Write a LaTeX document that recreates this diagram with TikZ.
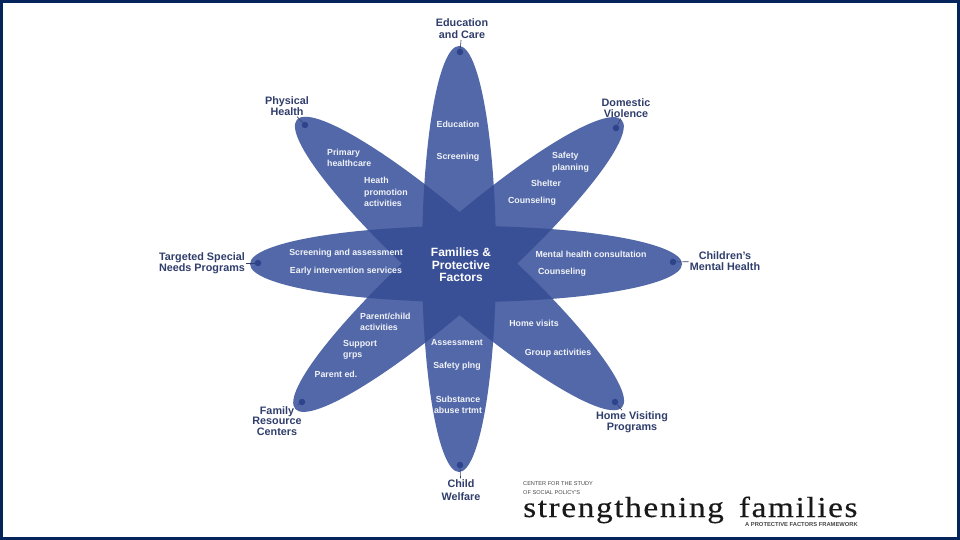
\documentclass[tikz,border=0pt]{standalone}
\usepackage{fontspec}
\setmainfont{Liberation Sans}
\newfontfamily\logofont[FakeStretch=1.15,LetterSpace=5.5,FakeBold=0.3]{Liberation Serif}
\definecolor{petalblue}{RGB}{82,104,168}
\definecolor{overlapblue}{RGB}{58,80,150}
\definecolor{dotblue}{RGB}{45,68,140}
\definecolor{labelnavy}{RGB}{48,62,108}
\definecolor{framenavy}{RGB}{6,36,92}
\definecolor{logogray}{RGB}{70,70,70}
\tikzset{
  petal v/.style={insert path={(459,259) ellipse [x radius=37, y radius=213]}},
  petal h/.style={insert path={(466,264) ellipse [x radius=216, y radius=38]}},
  petal a/.style={rotate around={-41.5:(459.5,263.5)}, insert path={(459.5,263.5) ellipse [x radius=217, y radius=39]}},
  petal b/.style={rotate around={41.5:(458.5,264.5)}, insert path={(458.5,264.5) ellipse [x radius=218, y radius=39]}},
  pointdot/.style={circle, fill=dotblue, inner sep=0pt, minimum size=6.5},
  outerlabel/.style={font=\fontsize{10.8}{10.8}\selectfont\bfseries, text=labelnavy, align=center, inner sep=1pt},
  petaltext/.style={font=\fontsize{8.8}{11.5}\selectfont\bfseries, text=white!92!petalblue, inner sep=0pt},
  leader/.style={draw=labelnavy, line width=0.6pt}
}
\begin{document}
\begin{tikzpicture}[x=1pt, y=-1pt]
\useasboundingbox (0,0) rectangle (960,540);
\fill[white] (0,0) rectangle (960,540);

% petals
\foreach \p in {v,h,a,b} {
  \fill[petalblue, petal \p];
}
% overlaps
\foreach \p/\q in {v/h,v/a,v/b,h/a,h/b,a/b} {
  \begin{scope}
    \clip[petal \p];
    \fill[overlapblue, petal \q];
  \end{scope}
}

% end points and their labels
\foreach \name/\dx/\dy/\lx/\ly/\txt in {
  edu/460/52/462/29/{Education\\[1pt]and Care},
  phys/305/125/287/106/{Physical\\Health},
  dom/616/128/626/108/{Domestic\\Violence},
  child/673/262/725/261/{Children's\\Mental Health},
  home/615/402/632/422/{Home Visiting\\Programs},
  welfare/460/465/461/490/{Child\\[2pt]Welfare},
  family/302/402/277/421/{Family\\Resource\\Centers},
  special/258/263/202/263/{Targeted Special\\Needs Programs}} {
  \node[pointdot] (\name dot) at (\dx,\dy) {};
  \node[outerlabel] (\name) at (\lx,\ly) {\txt};
  \draw[leader] (\name dot) -- (\name);
}

% centred texts
\foreach \name/\x/\y/\txt in {
  itemeducation/458/124/Education,
  itemscreening/458/157/Screening,
  itemshelter/546/183/Shelter,
  itemcounsel/532/201/Counseling,
  itemmental/591/254/Mental health consultation,
  itemcounseltwo/562/272/Counseling,
  itemvisits/534/323/Home visits,
  itemgroup/558/353/Group activities,
  itemassess/457/343/Assessment,
  itemsafety/457/366/Safety plng,
  itemabuse/458/405/{Substance\\abuse trtmt},
  itemparented/336/374/Parent ed.,
  itemassessment/346/253/Screening and assessment,
  itemearly/346/271/Early intervention services} {
  \node[petaltext, align=center] (\name) at (\x,\y) {\txt};
}
% left aligned texts
\foreach \name/\x/\y/\txt in {
  itemprimary/327/158/{Primary\\healthcare},
  itemhealth/364/192/{Heath\\promotion\\activities},
  itemplanning/552/162/{Safety\\planning},
  itemparent/360/322/{Parent/child\\activities},
  itemsupport/343/350/{Support\\grps}} {
  \node[petaltext, align=left, anchor=west] (\name) at (\x,\y) {\txt};
}

\node[font=\fontsize{12}{12.5}\selectfont\bfseries, text=white, align=center] (center) at (461,265) {Families \&\\Protective\\Factors};

% logo
\node[font=\fontsize{5.6}{9.5}\selectfont, text=logogray, align=left, anchor=north west, inner sep=0pt] (logotop) at (523,481) {CENTER FOR THE STUDY\\OF SOCIAL POLICY'S};
\node[font=\logofont\fontsize{29}{29}\selectfont, text=black!90, anchor=base west, inner sep=0pt] (logo) at (523,517) {strengthening\hspace{15pt}families};
\node[font=\fontsize{5.8}{6}\selectfont\bfseries, text=logogray, anchor=east, inner sep=0pt] (logosub) at (858,524.5) {A PROTECTIVE FACTORS FRAMEWORK};

% frame
\draw[framenavy, line width=3pt] (1.5,1.5) rectangle (958.5,538.5);
\end{tikzpicture}
\end{document}
